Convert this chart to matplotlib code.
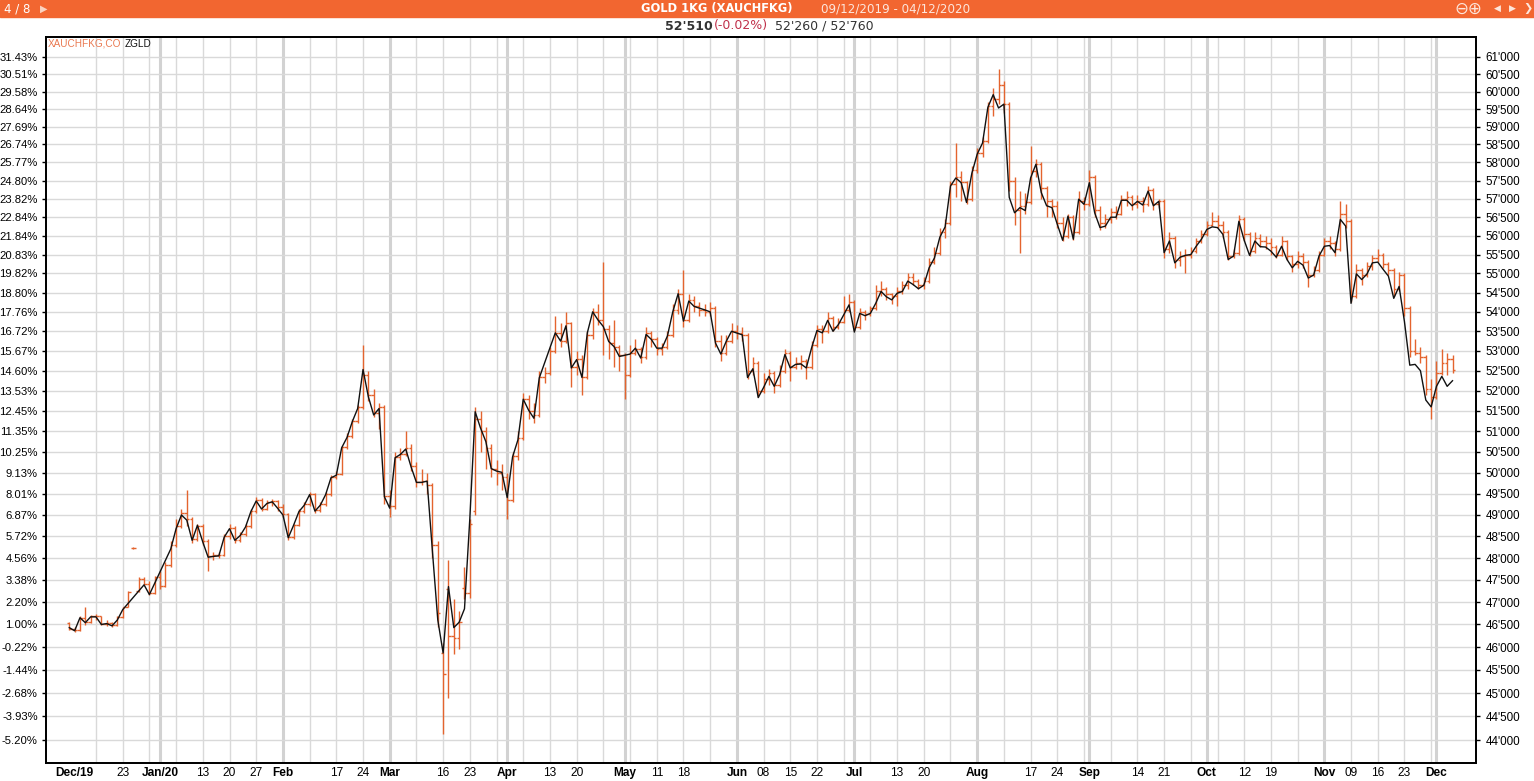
import numpy as np
import pandas as pd
import matplotlib
matplotlib.use("Agg")
import matplotlib.pyplot as plt
from matplotlib.collections import LineCollection
from matplotlib.patches import Rectangle
from matplotlib.ticker import NullLocator

plt.rcParams['font.family'] = ['Liberation Sans', 'DejaVu Sans']

START = "2019-12-09"
END = "2020-12-04"

# XAUCHFKG daily bars, CHF per kg (one value per business day)
gold_open = [
    46530, 46400, 46380, 46650, 46560, 46700, 46680, 46520, 46540, 46480,
    46660, 46900, 48230, 47250, 47520, 47420, 47200, 47560, 47360, 47850,
    48300, 48750, 49050, 48900, 48450, 48750, 48400, 48050, 48080, 48070,
    48500, 48700, 48420, 48550, 48750, 49100, 49350, 49150, 49300, 49320,
    49180, 49020, 48480, 48770, 49100, 49250, 49500, 49120, 49250, 49500,
    49900, 49980, 50620, 50880, 51260, 51600, 52400, 51900, 51450, 51600,
    49450, 49200, 50380, 50450, 50600, 50150, 49780, 49800, 49700, 48300,
    45870, 47290, 46240, 46200, 47320, 47200, 49100, 51300, 51000, 50600,
    50100, 50000, 49900, 49350, 50400, 50850, 51800, 51500, 51400, 52350,
    52450, 53000, 53450, 53250, 53700, 52600, 52800, 52350, 53400, 54000,
    53800, 53550, 53200, 53100, 52900, 52400, 52950, 53050, 52850, 53450,
    53300, 53050, 53100, 53400, 54050, 54450, 53800, 54300, 54150, 54050,
    54000, 54100, 53250, 52950, 53250, 53500, 53450, 53400, 52500, 52700,
    52000, 52300, 52450, 52150, 52500, 52950, 52600, 52700, 52750, 52600,
    53150, 53550, 53500, 53850, 53600, 53750, 54050, 54250, 53600, 54000,
    53950, 54100, 54550, 54600, 54450, 54400, 54550, 54700, 54900, 54800,
    54700, 54800, 55300, 55550, 56100, 56350, 57400, 57600, 57450, 57000,
    57800, 58250, 58600, 59600, 59800, 60200, 59650, 57500, 56700, 56800,
    56900, 57750, 57950, 57300, 56950, 56800, 56350, 56000, 56500, 56100,
    56950, 56850, 57600, 56700, 56350, 56450, 56650, 56600, 57000, 57050,
    56850, 56950, 56850, 57250, 56850, 56950, 55650, 55950, 55350, 55450,
    55500, 55600, 55850, 56050, 56300, 56400, 56300, 56100, 55450, 55550,
    56450, 56050, 55600, 55950, 55850, 55800, 55700, 55500, 55850, 55450,
    55250, 55450, 55300, 54950, 55100, 55500, 55850, 55800, 55650, 56600,
    56400, 54400, 55100, 54950, 55200, 55400, 55500, 55250, 55100, 54600,
    54950, 54100, 53000, 52950, 52850, 52050, 51850, 52450, 52700, 52800,
]
gold_high = [
    46560, 46450, 46700, 46880, 46720, 46740, 46700, 46590, 46560, 46680,
    46900, 47250, 48250, 47560, 47560, 47480, 47600, 47700, 47900, 48400,
    48900, 49150, 49600, 48950, 48800, 48800, 48450, 48150, 48150, 48550,
    48800, 48750, 48600, 48800, 49150, 49420, 49400, 49350, 49380, 49350,
    49250, 49050, 48800, 49150, 49300, 49550, 49520, 49300, 49550, 49950,
    50050, 50650, 50950, 51300, 51650, 53150, 52500, 52050, 51700, 51650,
    49600, 50500, 50600, 51000, 50700, 50250, 50100, 50000, 49750, 48400,
    46100, 47950, 47060, 46800, 47800, 48900, 51600, 51500, 51100, 50700,
    50300, 50200, 50000, 50500, 51000, 51950, 51900, 51700, 52500, 52600,
    53100, 53900, 53700, 54000, 53750, 53000, 52900, 53500, 54100, 54200,
    55300, 53650, 53800, 53150, 52950, 53150, 53300, 53100, 53600, 53500,
    53350, 53200, 53500, 54200, 54600, 55100, 54450, 54400, 54250, 54200,
    54250, 54150, 53400, 53400, 53700, 53650, 53600, 53450, 52850, 52750,
    52450, 52550, 52500, 52650, 53050, 53000, 52850, 52900, 52800, 53250,
    53650, 53650, 54000, 53900, 53850, 54400, 54450, 54300, 54100, 54050,
    54150, 54700, 54800, 54650, 54500, 54650, 54800, 55000, 55000, 54850,
    54900, 55400, 55700, 56200, 56450, 57500, 58550, 57750, 57500, 57900,
    58400, 58700, 59700, 60100, 60650, 60300, 59700, 57600, 57200, 57150,
    58450, 58100, 58000, 57350, 57000, 56950, 56500, 56600, 56550, 57200,
    57050, 57800, 57650, 56800, 56600, 56750, 56800, 57100, 57200, 57100,
    57100, 57050, 57350, 57300, 57000, 57000, 56100, 56000, 55600, 55650,
    55700, 55950, 56150, 56400, 56650, 56550, 56400, 56150, 55650, 56550,
    56500, 56100, 56100, 56050, 56000, 55950, 55750, 56000, 55900, 55500,
    55600, 55550, 55350, 55200, 55600, 55950, 56000, 55850, 56950, 56850,
    56450, 55250, 55150, 55300, 55500, 55650, 55550, 55300, 55150, 55050,
    55000, 54150, 53300, 53100, 52900, 52300, 52750, 53050, 52950, 52900,
]
gold_low = [
    46380, 46340, 46360, 46480, 46540, 46600, 46480, 46460, 46440, 46460,
    46640, 46880, 48210, 47230, 47380, 47150, 47180, 47300, 47340, 47800,
    48250, 48700, 48750, 48350, 48400, 48300, 47700, 47950, 48000, 48050,
    48450, 48350, 48380, 48500, 48700, 49050, 49100, 49120, 49200, 49100,
    48950, 48420, 48450, 48750, 49050, 49200, 49050, 49080, 49200, 49450,
    49850, 49950, 50580, 50850, 51200, 51550, 51750, 51350, 51050, 49250,
    48950, 49150, 50300, 50400, 50050, 49650, 49700, 49500, 48000, 46450,
    44130, 44900, 45850, 45960, 47080, 47100, 49000, 50500, 50100, 49900,
    49700, 49600, 48900, 49300, 50300, 50800, 51300, 51200, 51350, 52200,
    52400, 52950, 53100, 53200, 52100, 52400, 51900, 52300, 53300, 53650,
    52900, 52800, 52600, 52500, 51800, 52350, 52900, 52700, 52800, 53100,
    52900, 52900, 53050, 53350, 53950, 53600, 53750, 54000, 53900, 53900,
    53900, 53100, 52750, 52900, 53200, 53300, 53250, 52300, 52400, 51850,
    51950, 52150, 51950, 52100, 52450, 52250, 52550, 52550, 52300, 52550,
    53100, 53200, 53450, 53500, 53550, 53700, 54000, 53500, 53550, 53800,
    53900, 54050, 54400, 54300, 54200, 54150, 54450, 54600, 54700, 54600,
    54600, 54750, 55250, 55500, 55950, 56300, 57050, 56950, 56850, 56950,
    57700, 58150, 58550, 59300, 59650, 59400, 57200, 56300, 55550, 56600,
    56850, 57600, 57000, 56500, 56500, 56200, 55850, 55950, 55900, 56050,
    56700, 56800, 56500, 56150, 56200, 56350, 56450, 56550, 56800, 56700,
    56750, 56650, 56800, 56700, 56750, 55400, 55550, 55150, 55200, 55000,
    55400, 55550, 55800, 56000, 56250, 56200, 55950, 55350, 55400, 55500,
    55850, 55450, 55550, 55700, 55650, 55500, 55400, 55450, 55350, 55050,
    55150, 55150, 54650, 54900, 55050, 55450, 55650, 55450, 55600, 56200,
    54250, 54350, 54700, 54900, 55100, 55300, 55150, 54950, 54400, 54550,
    53900, 52850, 52900, 52700, 51900, 51300, 51800, 52400, 52400, 52450,
]
gold_close = [
    46400, 46380, 46650, 46560, 46700, 46680, 46520, 46540, 46480, 46660,
    46880, 47220, 48230, 47520, 47420, 47200, 47560, 47360, 47850, 48300,
    48750, 49050, 48900, 48450, 48750, 48400, 48050, 48080, 48070, 48500,
    48700, 48420, 48550, 48750, 49100, 49350, 49150, 49300, 49320, 49180,
    49020, 48480, 48770, 49100, 49250, 49500, 49120, 49250, 49500, 49900,
    49980, 50620, 50880, 51260, 51600, 52400, 51900, 51450, 51600, 49450,
    49200, 50380, 50450, 50600, 50150, 49780, 49800, 49700, 48300, 46750,
    45420, 46240, 46200, 46560, 47200, 48800, 51300, 51000, 50600, 50100,
    50000, 49900, 49350, 50400, 50850, 51800, 51500, 51400, 52350, 52450,
    53000, 53450, 53250, 53700, 52600, 52800, 52350, 53400, 54000, 53800,
    53550, 53200, 53100, 52900, 52400, 52950, 53050, 52850, 53450, 53300,
    53050, 53100, 53400, 54050, 54450, 53800, 54300, 54150, 54050, 54000,
    54100, 53250, 52950, 53250, 53500, 53450, 53400, 52500, 52700, 52000,
    52300, 52450, 52150, 52500, 52950, 52600, 52700, 52750, 52600, 53150,
    53550, 53500, 53850, 53600, 53750, 54050, 54250, 53600, 54000, 53950,
    54100, 54550, 54600, 54450, 54400, 54550, 54700, 54900, 54800, 54700,
    54800, 55300, 55550, 56100, 56350, 57400, 57600, 57450, 57000, 57800,
    58250, 58600, 59600, 59800, 60200, 59650, 57500, 56700, 56800, 56900,
    57750, 57950, 57300, 56950, 56800, 56350, 56000, 56500, 56100, 56950,
    56850, 57600, 56700, 56350, 56450, 56650, 56600, 57000, 57050, 56850,
    56950, 56850, 57250, 56850, 56950, 55650, 55950, 55350, 55450, 55500,
    55600, 55850, 56050, 56300, 56400, 56300, 56100, 55450, 55550, 56450,
    56050, 55600, 55950, 55850, 55800, 55700, 55500, 55850, 55450, 55250,
    55450, 55300, 54950, 55100, 55500, 55850, 55800, 55650, 56600, 56400,
    54400, 55100, 54950, 55200, 55400, 55500, 55250, 55100, 54600, 54950,
    54100, 53000, 52950, 52850, 52050, 51850, 52450, 52700, 52800, 52510,
]

# ZGLD on the same scale; None on days the Swiss exchange was closed
zgld = [
    46430, 46360, 46650, 46540, 46670, 46670, 46500, 46520, 46470, 46600,
    46830, None, None, None, 47390, 47170, None, None, None, 48210,
    48680, 49000, 48880, 48410, 48760, 48370, 48020, 48040, 48050, 48480,
    48680, 48410, 48520, 48720, 49080, 49330, 49140, 49270, 49310, 49160,
    49000, 48470, 48760, 49080, 49230, 49480, 49090, 49230, 49480, 49880,
    49940, 50600, 50850, 51240, 51560, 52530, 51850, 51400, 51560, 49430,
    49160, 50360, 50440, 50570, 50140, 49770, 49770, 49800, 48150, 46600,
    45870, 47350, 46430, 46550, 46850, 48920, 51480, 51080, 50750, 50100,
    50040, 50010, 49410, 50380, 50790, 51790, 51520, 51320, 52320, None,
    None, 53460, 53250, 53640, 52570, 52780, 52330, 53460, 54000, 53790,
    53620, 53240, 53110, 52860, None, 52920, 53070, 52820, 53420, 53290,
    53070, 53070, 53380, 54000, 54470, 53760, 54280, 54140, None, 54050,
    54000, 53200, 52920, 53240, 53500, None, 53410, 52330, 52550, 51830,
    52080, 52360, 52110, 52400, 52910, 52570, 52660, 52670, 52570, 53080,
    53520, 53460, 53780, 53500, 53670, 53920, 54180, 53480, 53960, 53900,
    53960, 54220, 54530, 54390, 54310, 54480, 54530, 54800, 54710, 54600,
    54690, 55150, 55410, 55960, 56240, 57350, 57570, 57440, 56900, 57700,
    58230, 58540, 59550, 59910, 59530, 59640, 57040, 56620, 56760, 56680,
    57570, 57950, 57170, 56810, 56760, 56310, 55880, 56530, 55910, 56990,
    56850, 57440, 56620, 56220, 56260, 56500, 56500, 56960, 56960, 56810,
    56930, 56830, 57210, 56810, 56930, 55550, 55860, 55280, 55430, 55480,
    55500, 55720, 55910, 56170, 56240, 56220, 56040, 55370, 55460, 56390,
    55880, 55480, 55860, 55710, 55700, 55590, 55430, 55720, 55370, 55150,
    55320, 55220, 54880, 54960, 55460, 55720, 55740, 55550, 56440, 56260,
    54220, 54990, 54840, 54990, 55280, 55300, 55110, 54930, 54350, 54660,
    53750, 52640, 52660, 52500, 51770, 51600, 52110, 52360, 52110, 52250,
]

price_ticks = list(range(44000, 61001, 500))
pct_labels = [
    "-5.20%", "-3.93%", "-2.68%", "-1.44%", "-0.22%", "1.00%", "2.20%",
    "3.38%", "4.56%", "5.72%", "6.87%", "8.01%", "9.13%", "10.25%",
    "11.35%", "12.45%", "13.53%", "14.60%", "15.67%", "16.72%", "17.76%",
    "18.80%", "19.82%", "20.83%", "21.84%", "22.84%", "23.82%", "24.80%",
    "25.77%", "26.74%", "27.69%", "28.64%", "29.58%", "30.51%", "31.43%",
]
x_label_dates = [
    "2019-12-10", "2019-12-23", "2020-01-01", "2020-01-13", "2020-01-20",
    "2020-01-27", "2020-02-03", "2020-02-17", "2020-02-24", "2020-03-02",
    "2020-03-16", "2020-03-23", "2020-04-01", "2020-04-13", "2020-04-20",
    "2020-05-01", "2020-05-11", "2020-05-18", "2020-06-01", "2020-06-08",
    "2020-06-15", "2020-06-22", "2020-07-01", "2020-07-13", "2020-07-20",
    "2020-08-03", "2020-08-17", "2020-08-24", "2020-09-01", "2020-09-14",
    "2020-09-21", "2020-10-01", "2020-10-12", "2020-10-19", "2020-11-02",
    "2020-11-09", "2020-11-16", "2020-11-23", "2020-12-01",
]
x_label_text = [
    "Dec/19", "23", "Jan/20", "13", "20", "27", "Feb", "17", "24", "Mar",
    "16", "23", "Apr", "13", "20", "May", "11", "18", "Jun", "08",
    "15", "22", "Jul", "13", "20", "Aug", "17", "24", "Sep", "14",
    "21", "Oct", "12", "19", "Nov", "09", "16", "23", "Dec",
]

ORANGE = "#F26630"
BAR = "#E4642E"
GRID = "#d9d9d9"

dates = pd.bdate_range(START, END)
idx = np.arange(len(dates))
pos = {d: i for i, d in enumerate(dates)}

W, H = 1534, 781
fig = plt.figure(figsize=(W / 100, H / 100), dpi=100)
ax = fig.add_axes([46 / W, 18 / H, 1430 / W, 726 / H])

# grid: weekly lines, heavier at the first trading day of a month
for i, d in enumerate(dates):
    if i == 0:
        continue
    if d.month != dates[i - 1].month:
        ax.axvline(i, color="#d2d2d2", lw=2.2, zorder=0)
    elif d.weekday() == 0:
        ax.axvline(i, color=GRID, lw=1, zorder=0)
for p in price_ticks:
    ax.axhline(p, color=GRID, lw=1, zorder=0)

# OHLC bars
segs = []
for i in idx:
    segs.append([(i, gold_low[i]), (i, gold_high[i])])
    segs.append([(i - 0.48, gold_open[i]), (i, gold_open[i])])
    segs.append([(i, gold_close[i]), (i + 0.48, gold_close[i])])
ax.add_collection(LineCollection(segs, colors=BAR, linewidths=1, zorder=2))

# ZGLD line
zx = [i for i in idx if zgld[i] is not None]
zy = [zgld[i] for i in zx]
ax.plot(zx, zy, color="#111111", lw=1.0, zorder=3)

ax.set_yscale("log")
ax.set_ylim(43519, 61586)
ax.set_xlim(-4.36, 263.4)
ax.yaxis.set_minor_locator(NullLocator())
ax.set_yticks(price_ticks)
ax.set_yticklabels(pct_labels)
ax.tick_params(axis="y", direction="out", length=3, width=1, labelsize=8.1, pad=3)

ax.set_xticks([pos[pd.Timestamp(d)] for d in x_label_dates])
ax.set_xticklabels(x_label_text)
ax.tick_params(axis="x", length=0, labelsize=8.6, pad=3)
for t in ax.get_xticklabels():
    if not t.get_text().isdigit():
        t.set_fontweight("bold")

ax2 = ax.twinx()
ax2.set_yscale("log")
ax2.set_ylim(ax.get_ylim())
ax2.yaxis.set_minor_locator(NullLocator())
ax2.set_yticks(price_ticks)
ax2.set_yticklabels([f"{p // 1000}'{p % 1000:03d}" for p in price_ticks])
ax2.tick_params(axis="y", direction="out", length=3, width=1, labelsize=8.4, pad=4)

for a in (ax, ax2):
    for s in a.spines.values():
        s.set_color("black")
        s.set_linewidth(1.3)

# series names in the corner
ax.text(2 / 1430, 1 - 2 / 726, "XAUCHFKG,CO", transform=ax.transAxes, color="#EA7A52",
        fontsize=7.2, va="top", ha="left")
ax.text(79 / 1430, 1 - 2 / 726, "ZGLD", transform=ax.transAxes, color="#111111",
        fontsize=7.2, va="top", ha="left")

# header band
fig.patches.append(Rectangle((0, 1 - 17 / H), 1, 17 / H, transform=fig.transFigure,
                             color=ORANGE, zorder=0))
hy = 1 - 8.5 / H
fig.text(4 / W, hy, "4 / 8", color="white", fontsize=8.5, va="center", ha="left",
         family="DejaVu Sans")
fig.text(40 / W, hy, "▶", color="#fbd3c0", fontsize=7, va="center", ha="left",
         family="DejaVu Sans")
fig.text(717 / W, hy, "GOLD 1KG (XAUCHFKG)", color="white", fontsize=8.3,
         fontweight="bold", va="center", ha="center", family="DejaVu Sans")
fig.text(896 / W, hy, "09/12/2019 - 04/12/2020", color="#fde6dc", fontsize=8.6,
         va="center", ha="center", family="DejaVu Sans")
fig.text(1454 / W, hy, "⊖⊕", color="#fde6dc", fontsize=12, va="center", ha="left",
         family="DejaVu Sans")
fig.text(1494 / W, hy, "◀", color="#fde6dc", fontsize=6.5, va="center", ha="left",
         family="DejaVu Sans")
fig.text(1509 / W, hy, "▶", color="#fde6dc", fontsize=6.5, va="center", ha="left",
         family="DejaVu Sans")
fig.text(1523 / W, hy, "❯", color="#fde6dc", fontsize=8, va="center", ha="left",
         family="DejaVu Sans")

# quote line
qy = 1 - 26 / H
fig.text(665 / W, qy, "52'510", color="#333333", fontsize=9, fontweight="bold",
         va="center", ha="left", family="DejaVu Sans")
fig.text(714 / W, qy, "(-0.02%)", color="#C0304A", fontsize=9, va="center", ha="left",
         family="DejaVu Sans")
fig.text(775 / W, qy, "52'260 / 52'760", color="#333333", fontsize=9, va="center",
         ha="left", family="DejaVu Sans")

fig.savefig("out.png", dpi=100)
